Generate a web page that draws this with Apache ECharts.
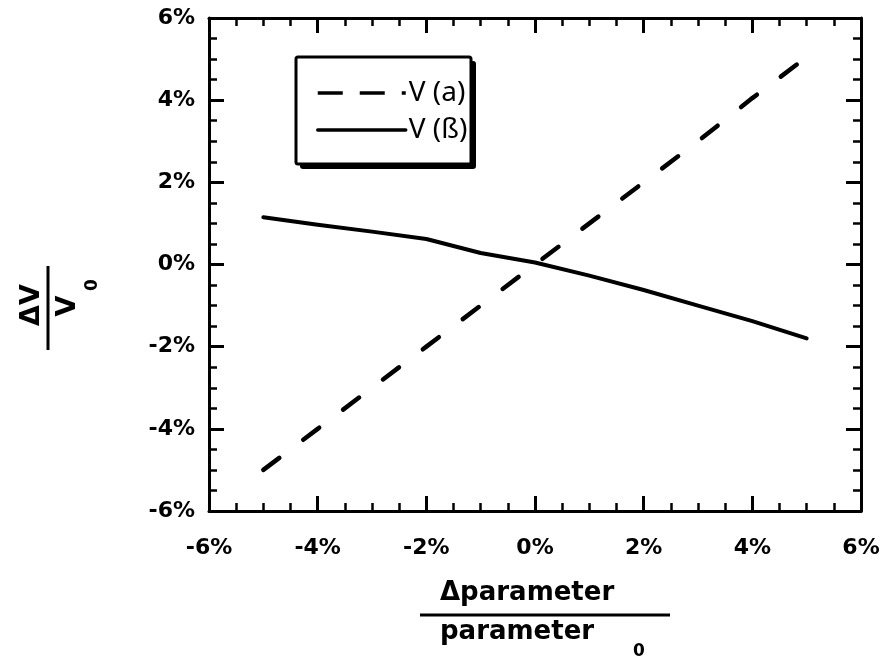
<!DOCTYPE html>
<html>
<head>
<meta charset="utf-8">
<style>
  html, body { margin: 0; padding: 0; background: #fff; }
  #chart { width: 891px; height: 662px; }
</style>
<script src="https://cdn.jsdelivr.net/npm/echarts@6/dist/echarts.min.js"></script>
</head>
<body>
<div id="chart"></div>
<script>
// Relative parameter change (%) and resulting relative change of V (%)
const paramPct = [-5, -4, -3, -2, -1, 0, 1, 2, 3, 4, 5];
const vAlpha = [-5.0, -4.0, -3.0, -2.0, -1.0, 0.0, 1.0, 2.0, 3.0, 4.05, 5.05];
const vBeta = [1.15, 0.97, 0.8, 0.62, 0.28, 0.05, -0.27, -0.62, -1.0, -1.38, -1.8];
const seriesNames = ['V (a)', 'V (ß)'];
const axisRange = { min: -6, max: 6, step: 2 };

const pairs = (xs, ys) => xs.map((x, i) => [x, ys[i]]);

const labelFont = { fontFamily: 'DejaVu Sans', fontWeight: 'bold', fontSize: 22, color: '#000' };
const black = '#000';
const hiddenMarker = { color: 'rgba(0,0,0,0)', borderColor: 'rgba(0,0,0,0)', borderWidth: 0, opacity: 0 };

function makeAxis(extra) {
  return Object.assign({
    type: 'value',
    min: axisRange.min,
    max: axisRange.max,
    interval: axisRange.step,
    axisLine: { show: true, onZero: false, lineStyle: { color: black, width: 3 } },
    axisTick: { show: true, inside: true, length: 15, lineStyle: { color: black, width: 3 } },
    minorTick: { show: true, splitNumber: 4, length: 8, lineStyle: { color: black, width: 2.5 } },
    splitLine: { show: false },
    minorSplitLine: { show: false }
  }, extra);
}

const chart = echarts.init(document.getElementById('chart'), null, { renderer: 'canvas' });

chart.setOption({
  backgroundColor: '#fff',
  animation: false,
  grid: { left: 209, right: 30, top: 18, bottom: 151 },
  xAxis: [
    makeAxis({ position: 'bottom', axisLabel: Object.assign({ margin: 26, formatter: '{value}%' }, labelFont) }),
    makeAxis({ position: 'top', axisLabel: { show: false } })
  ],
  yAxis: [
    makeAxis({ position: 'left', axisLabel: Object.assign({ margin: 14, formatter: '{value}%' }, labelFont) }),
    makeAxis({ position: 'right', axisLabel: { show: false } })
  ],
  legend: {
    orient: 'vertical',
    left: 297,
    top: 58,
    z: 10,
    padding: [20, 6, 20, 19],
    itemGap: 7,
    itemWidth: 88,
    itemHeight: 20,
    backgroundColor: 'transparent',
    borderWidth: 0,
    textStyle: { fontFamily: 'Noto Sans', fontSize: 28, lineHeight: 30, color: black, padding: [0, 0, 0, -2] },
    data: [
      { name: seriesNames[0], itemStyle: hiddenMarker, lineStyle: { type: [25, 17], width: 3.5, cap: 'butt' } },
      { name: seriesNames[1], itemStyle: hiddenMarker, lineStyle: { type: 'solid', width: 3.5 } }
    ]
  },
  graphic: [
    // legend frame with a solid drop shadow
    { type: 'rect', z: 5, shape: { x: 300, y: 61, width: 176, height: 108, r: 3 }, style: { fill: black } },
    { type: 'rect', z: 6, shape: { x: 296, y: 57, width: 175, height: 107, r: 2 }, style: { fill: '#fff', stroke: black, lineWidth: 3 } },
    // x axis title: Δparameter / parameter_0
    { type: 'text', left: 440, top: 580, style: { text: 'Δparameter', font: 'bold 26px "DejaVu Sans"', fill: black } },
    { type: 'line', shape: { x1: 420, y1: 615, x2: 670, y2: 615 }, style: { stroke: black, lineWidth: 3 } },
    { type: 'text', left: 440, top: 619, style: { text: 'parameter', font: 'bold 26px "DejaVu Sans"', fill: black } },
    { type: 'text', left: 633, top: 643, style: { text: '0', font: 'bold 17px "DejaVu Sans"', fill: black } },
    // y axis title: ΔV / V_0, reading bottom to top
    {
      type: 'group', x: 48, y: 308, rotation: Math.PI / 2,
      children: [
        { type: 'text', style: { text: 'ΔV', x: 3, y: -3, textAlign: 'center', textVerticalAlign: 'bottom', font: 'bold 27px "DejaVu Sans"', fill: black } },
        { type: 'line', shape: { x1: -42, y1: 0, x2: 42, y2: 0 }, style: { stroke: black, lineWidth: 3 } },
        { type: 'text', style: { text: 'V', x: 2, y: 6, textAlign: 'center', textVerticalAlign: 'top', font: 'bold 27px "DejaVu Sans"', fill: black } },
        { type: 'text', style: { text: '0', x: 23, y: 36, textAlign: 'center', textVerticalAlign: 'top', font: 'bold 17px "DejaVu Sans"', fill: black } }
      ]
    }
  ],
  series: [
    {
      name: seriesNames[0],
      type: 'line',
      xAxisIndex: 0,
      yAxisIndex: 0,
      data: pairs(paramPct, vAlpha),
      symbol: 'none',
      lineStyle: { color: black, width: 4.5, type: [20, 30], cap: 'round' },
      itemStyle: { color: black }
    },
    {
      name: seriesNames[1],
      type: 'line',
      xAxisIndex: 0,
      yAxisIndex: 0,
      data: pairs(paramPct, vBeta),
      symbol: 'none',
      lineStyle: { color: black, width: 4, type: 'solid', cap: 'round', join: 'round' },
      itemStyle: { color: black }
    }
  ]
});
</script>
</body>
</html>
